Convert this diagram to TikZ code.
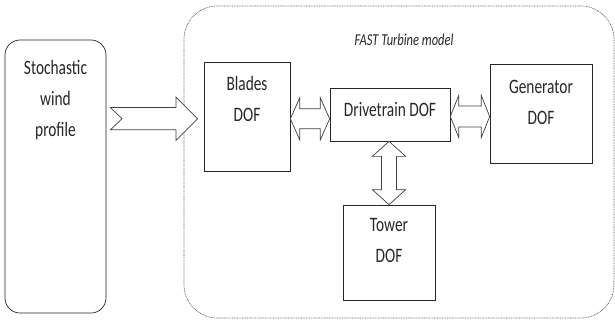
\documentclass[tikz,border=0pt]{standalone}
\usepackage{fontspec}
\setmainfont{Carlito}[FakeStretch=0.75]
\usetikzlibrary{positioning,calc}

\begin{document}
\begin{tikzpicture}[
    box/.style={draw=black!85, line width=0.6pt, inner sep=0pt},
    boxtext/.style={inner sep=0pt, align=center, text=black!85, font=\fontsize{17.5}{26.5}\selectfont},
    blockarrow/.style={draw=black!75, line width=0.6pt, fill=white, line join=miter}
  ]
  \useasboundingbox (0,0) rectangle (18.45,9.6);

  % FAST turbine frame
  \node[box, draw=black!65, dash pattern=on 0.7pt off 0.7pt, rounded corners=1cm, minimum width=12.9cm, minimum height=9.36cm] (fast) at (11.97,4.74) {};
  \node[inner sep=0pt, text=black!85, font=\fontsize{14.2}{16}\selectfont\itshape] (fastlabel) at (12.12,8.4) {FAST Turbine model};

  % Wind input
  \node[box, rounded corners=0.45cm, minimum width=3.03cm, minimum height=8.19cm] (wind) at (1.665,4.305) {};
  \node[boxtext, below=0.6cm of wind.north] (windtext) {Stochastic\\wind\\profile};

  % DOF blocks
  \node[box, minimum width=2.58cm, minimum height=3.27cm] (blades) at (7.41,6.105) {};
  \node[boxtext, below=0.43cm of blades.north] (bladestext) {Blades\\DOF};
  \node[box, minimum width=3.6cm, minimum height=1.59cm] (drive) at (11.7,6.165) {};
  \node[boxtext, below=0.43cm of drive.north] (drivetext) {Drivetrain DOF};
  \node[box, minimum width=3.06cm, minimum height=2.97cm] (gen) at (16.23,6.195) {};
  \node[boxtext, below=0.48cm of gen.north] (gentext) {Generator\\DOF};
  \node[box, minimum width=2.76cm, minimum height=2.85cm] (tower) at (11.67,2.025) {};
  \node[boxtext, below=0.4cm of tower.north] (towertext) {Tower\\DOF};

  % Wind -> Blades
  \coordinate (w1) at ($(wind.east |- blades.west)+(0.12,-0.065)$);
  \coordinate (w2) at ($(blades.west)+(-0.18,-0.065)$);
  \draw[blockarrow] ($(w1)+(0.35,0)$) -- ($(w1)+(0,0.335)$) -- ($(w2)+(-0.65,0.335)$) -- ++(0,0.315) -- (w2)
    -- ++(-0.65,-0.65) -- ++(0,0.315) -- ($(w1)+(0,-0.335)$) -- cycle;

  % Blades <-> Drivetrain
  \coordinate (bd1) at ($(blades.east)+(0,-0.07)$);
  \coordinate (bd2) at (drive.west |- bd1);
  \draw[blockarrow] (bd1) -- ++(0.28,0.63) -- ++(0,-0.33) -- ($(bd2)+(-0.28,0.3)$) -- ++(0,0.33) -- (bd2)
    -- ++(-0.28,-0.63) -- ++(0,0.33) -- ($(bd1)+(0.28,-0.3)$) -- ++(0,-0.33) -- cycle;

  % Drivetrain <-> Generator
  \coordinate (dg1) at ($(drive.east)+(0,-0.06)$);
  \coordinate (dg2) at (gen.west |- dg1);
  \draw[blockarrow] (dg1) -- ++(0.25,0.63) -- ++(0,-0.315) -- ($(dg2)+(-0.25,0.315)$) -- ++(0,0.315) -- (dg2)
    -- ++(-0.25,-0.63) -- ++(0,0.315) -- ($(dg1)+(0.25,-0.315)$) -- ++(0,-0.315) -- cycle;

  % Drivetrain <-> Tower
  \coordinate (dt1) at (tower.north |- drive.south);
  \coordinate (dt2) at (tower.north);
  \draw[blockarrow] (dt1) -- ++(0.5,-0.45) -- ++(-0.275,0) -- ($(dt2)+(0.225,0.45)$) -- ++(0.275,0) -- (dt2)
    -- ++(-0.5,0.45) -- ++(0.275,0) -- ($(dt1)+(-0.225,-0.45)$) -- ++(-0.275,0) -- cycle;
\end{tikzpicture}
\end{document}
